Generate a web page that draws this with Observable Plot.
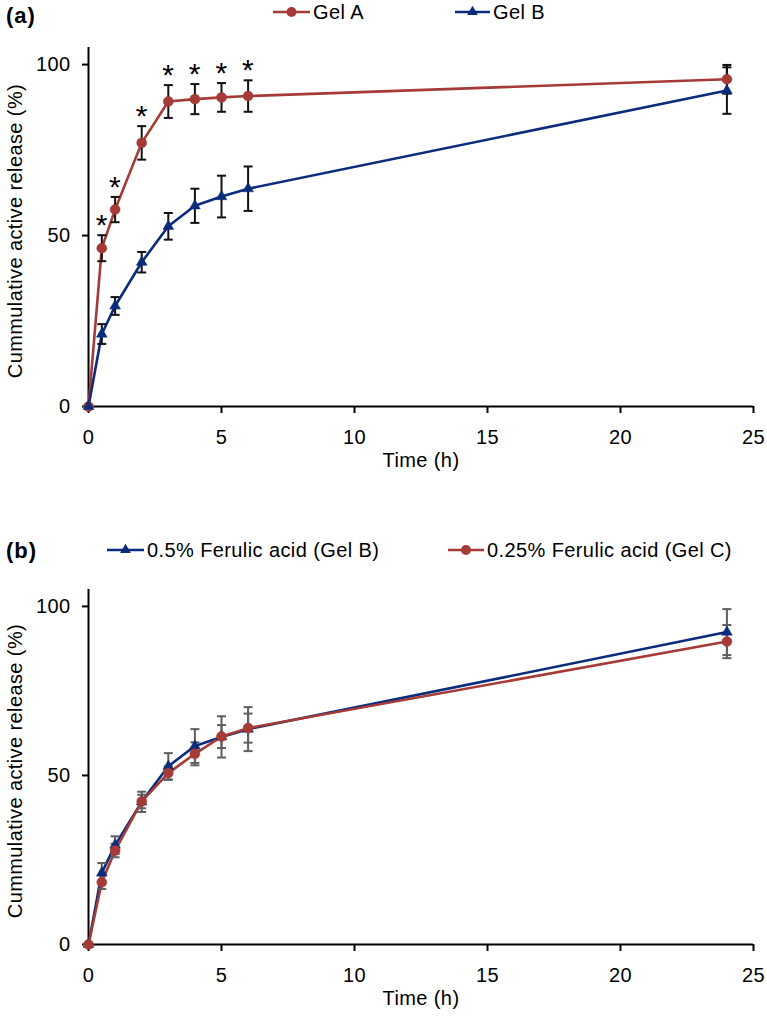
<!DOCTYPE html>
<html><head><meta charset="utf-8">
<script src="https://cdn.jsdelivr.net/npm/d3@7"></script>
<script src="https://cdn.jsdelivr.net/npm/@observablehq/plot@0.6"></script>
<style>
body{margin:0;background:#fff;font-family:"Liberation Sans",Arial,sans-serif;}
#wrap{position:relative;width:767px;height:1021px;overflow:hidden;background:#fff;}
.panel{position:absolute;left:0;}
.tag{position:absolute;font-weight:bold;font-size:22px;letter-spacing:1px;color:#000;line-height:1;}
.leg{position:absolute;left:0;overflow:visible;}
</style></head><body><div id="wrap"></div>
<script>
// ---- data ----
const time = [0, 0.5, 1, 2, 3, 4, 5, 6, 24];
const gelA = [0, 46.3, 57.6, 77.1, 89.2, 89.9, 90.4, 90.8, 95.7];
const gelAErr = [0, 3.8, 3.7, 4.9, 4.8, 4.4, 4.2, 4.6, 4.2];
const gelB = [0, 21.2, 29.4, 42.2, 52.7, 58.7, 61.4, 63.7, 92.4];
const gelBErr = [0, 2.9, 2.6, 3.0, 3.9, 5.0, 6.1, 6.5, 6.8];
const gelC = [0, 18.4, 27.8, 42.3, 50.7, 56.4, 61.5, 64.0, 89.6];
const gelCErr = [0, 2.0, 2.0, 2.0, 2.0, 3.4, 3.4, 4.3, 4.9];
const significant = [false, true, true, true, true, true, true, true, false];
const xTicks = [0, 5, 10, 15, 20, 25];
const yTicks = [0, 50, 100];
const xTitle = "Time (h)";
const yTitle = "Cummulative active release (%)";
const labelsA = ["Gel A", "Gel B"];
const labelsB = ["0.5% Ferulic acid (Gel B)", "0.25% Ferulic acid (Gel C)"];

const RED = "#a53a36", BLUE = "#0b2b7c";
const FONT = "'Liberation Sans', Arial, Helvetica, sans-serif";

const rows = (vals, errs) => time.map((t, i) => ({t, v: vals[i], e: errs[i], sig: significant[i]}));
const capSymbol = {draw(ctx, size) { const w = Math.sqrt(size / Math.PI); ctx.moveTo(-w, 0); ctx.lineTo(w, 0); }};

function errorMarks(data, color) {
  const d = data.filter(r => r.e > 0);
  return [
    Plot.ruleX(d, {x: "t", y1: r => r.v - r.e, y2: r => r.v + r.e, stroke: color, strokeWidth: 2}),
    Plot.dot(d, {x: "t", y: r => r.v + r.e, symbol: capSymbol, r: 4.5, fill: "none", stroke: color, strokeWidth: 2}),
    Plot.dot(d, {x: "t", y: r => r.v - r.e, symbol: capSymbol, r: 4.5, fill: "none", stroke: color, strokeWidth: 2})
  ];
}
function seriesMarks(data, color) {
  return [Plot.line(data, {x: "t", y: "v", stroke: color, strokeWidth: 2.6})];
}
function dotMarks(data, color, symbol) {
  return [Plot.dot(data, {x: "t", y: "v", symbol, r: symbol === "circle" ? 5 : 4, fill: color, stroke: color, strokeWidth: 0.5})];
}

function makePanel({series, errColor, stars, marginTop, marginBottom}) {
  const marks = [
    Plot.ruleY([0], {stroke: "#000", strokeWidth: 2}),
    Plot.ruleX([0], {stroke: "#000", strokeWidth: 2}),
    Plot.axisX({ticks: xTicks, tickSize: 7, tickPadding: 16, strokeWidth: 2, label: null, tickFormat: d => String(d)}),
    Plot.axisY({ticks: yTicks, tickSize: 6, tickPadding: 12, strokeWidth: 2, label: null, tickFormat: d => String(d)}),
    Plot.text([xTitle], {frameAnchor: "bottom", dy: 60, fontSize: 20, fill: "#000"}),
    Plot.text([yTitle], {frameAnchor: "left", textAnchor: "middle", lineAnchor: "middle", rotate: -90, dx: -73, dy: 4, fontSize: 20, fill: "#000"})
  ];
  for (const s of series) marks.push(...seriesMarks(s.data, s.color));
  for (const s of series) marks.push(...errorMarks(s.data, errColor));
  for (const s of series) marks.push(...dotMarks(s.data, s.color, s.symbol));
  if (stars) {
    marks.push(Plot.text(stars.filter(r => r.sig), {x: "t", y: r => r.v + r.e, text: () => "*", dy: -10, fontSize: 30, fill: "#000"}));
  }
  return Plot.plot({
    width: 767, height: 480,
    marginTop, marginBottom, marginLeft: 88, marginRight: 14,
    x: {domain: [0, 25]},
    y: {domain: [0, 105]},
    style: {fontFamily: FONT, fontSize: "20px", color: "#000", background: "transparent", overflow: "visible", letterSpacing: "0.4px"},
    marks
  });
}

function legend(top, items) {
  const svg = d3.create("svg").attr("class", "leg").attr("width", 767).attr("height", 30)
    .style("top", (top - 15) + "px").style("font-family", FONT).style("letter-spacing", "0.4px");
  for (const it of items) {
    svg.append("line").attr("x1", it.x1).attr("x2", it.x2).attr("y1", 15).attr("y2", 15)
      .attr("stroke", it.color).attr("stroke-width", 2.6);
    svg.append("path").attr("transform", `translate(${(it.x1 + it.x2) / 2},15)`)
      .attr("d", d3.symbol(it.symbol === "circle" ? d3.symbolCircle : d3.symbolTriangle, it.symbol === "circle" ? Math.PI * 25 : Math.PI * 16)())
      .attr("fill", it.color);
    svg.append("text").attr("x", it.x2 + 3).attr("y", 15).attr("dy", "0.35em")
      .attr("font-size", 20).attr("fill", "#000").text(it.label);
  }
  return svg.node();
}

const wrap = document.getElementById("wrap");
const A = rows(gelA, gelAErr), B = rows(gelB, gelBErr), C = rows(gelC, gelCErr);

const pa = makePanel({series: [{data: A, color: RED, symbol: "circle"}, {data: B, color: BLUE, symbol: "triangle"}],
  errColor: "#111", stars: A, marginTop: 47, marginBottom: 74});
pa.classList.add("panel"); pa.style.top = "0px";
wrap.appendChild(pa);

const pb = makePanel({series: [{data: B, color: BLUE, symbol: "triangle"}, {data: C, color: RED, symbol: "circle"}],
  errColor: "#5f5f5f", stars: null, marginTop: 48, marginBottom: 77});
pb.classList.add("panel"); pb.style.top = "541px";
wrap.appendChild(pb);

wrap.appendChild(legend(12, [
  {x1: 273, x2: 310, color: RED, symbol: "circle", label: labelsA[0]},
  {x1: 455, x2: 490, color: BLUE, symbol: "triangle", label: labelsA[1]}
]));
wrap.appendChild(legend(550, [
  {x1: 107, x2: 144, color: BLUE, symbol: "triangle", label: labelsB[0]},
  {x1: 448, x2: 484, color: RED, symbol: "circle", label: labelsB[1]}
]));

const ta = document.createElement("div"); ta.className = "tag"; ta.textContent = "(a)";
ta.style.left = "6px"; ta.style.top = "5px"; wrap.appendChild(ta);
const tb = document.createElement("div"); tb.className = "tag"; tb.textContent = "(b)";
tb.style.left = "6px"; tb.style.top = "540px"; wrap.appendChild(tb);
</script></body></html>
